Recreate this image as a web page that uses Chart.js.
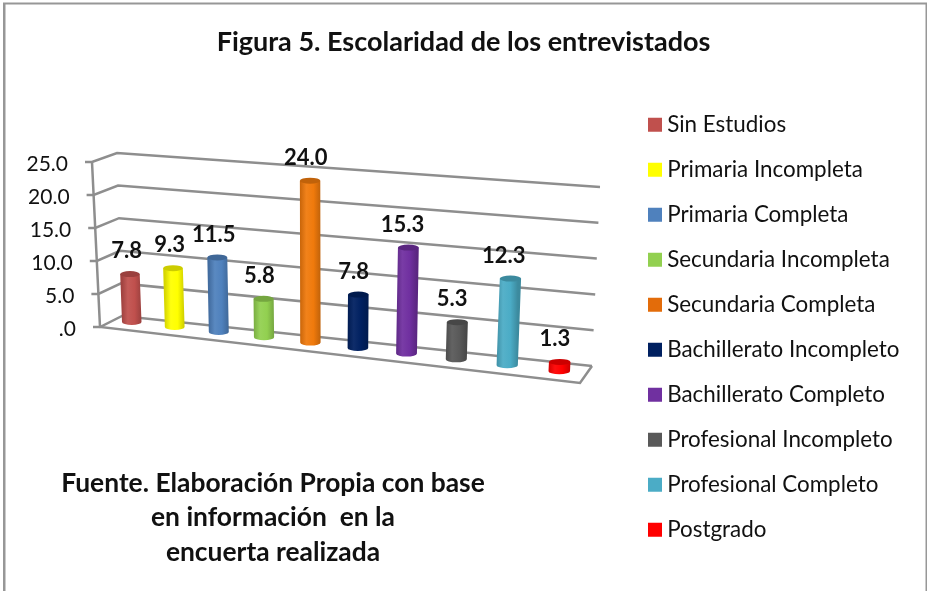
<!DOCTYPE html>
<html>
<head>
<meta charset="utf-8">
<title>Figura 5</title>
<script src="https://cdn.jsdelivr.net/npm/chart.js@4"></script>
<style>
  html, body { margin: 0; padding: 0; background: #fff; }
  #wrap { position: relative; width: 927px; height: 591px; }
</style>
</head>
<body>
<div id="wrap"><canvas id="chart" width="927" height="591"></canvas></div>
<script>
const categories = ["Sin Estudios", "Primaria Incompleta", "Primaria Completa", "Secundaria Incompleta",
    "Secundaria Completa", "Bachillerato Incompleto", "Bachillerato Completo", "Profesional Incompleto",
    "Profesional Completo", "Postgrado"];
const values = [7.8, 9.3, 11.5, 5.8, 24.0, 7.8, 15.3, 5.3, 12.3, 1.3];
const barColors = ["#C0504D", "#FFFF00", "#4F81BD", "#92D050", "#F07A0C", "#002060", "#7030A0", "#595959", "#4BACC6", "#FF0000"];
const legendColors = ["#C0504D", "#FFFF00", "#4F81BD", "#92D050", "#E36C0A", "#002060", "#7030A0", "#595959", "#4BACC6", "#FF0000"];
const sourceLines = ["Fuente. Elaboración Propia con base", "en información  en la", "encuerta realizada"];

const FONT = "Lato, Carlito, Calibri, sans-serif";
const TEXT = "#111";
const LINE = "#8E8E8E";

// the picture is a tilted 3D box: everything is bent from the flat scale positions
function wall(y, value) {
    const u = (y.getPixelForValue(0) - y.getPixelForValue(value)) / (y.getPixelForValue(0) - y.getPixelForValue(25));
    return {
        front: [100 - 8 * u, 327 - 165 * u],
        back: [122 - 5 * u, 316 - 163 * u],
        right: [592 + 8 * u, 366 - 179 * u]
    };
}

function shade(hex, k) {
    const n = parseInt(hex.slice(1), 16);
    const f = c => Math.max(0, Math.min(255, Math.round(k < 0 ? c * (1 + k) : c + (255 - c) * k)));
    return `rgb(${f(n >> 16)},${f((n >> 8) & 255)},${f(n & 255)})`;
}

function cylinderPos(el, area) {
    const t = (el.x - area.left) / (area.right - area.left);
    const s = (t - 0.05) / 0.9;
    const x = el.x - 46 * s * (1 - s);
    const h = (el.base - el.y) * (0.93 + 0.26 * s - 0.12 * s * s);
    const w = 19.5 + 2 * s;
    const bottom = 325 + 0.115 * (x - 132) - 3;
    const top = bottom - h;
    const lean = (x - 320) * h / 5000;
    return { x, top, bottom, w, lean };
}

const box3d = {
    id: "box3d",
    afterLayout(chart) {
        chart.legend.left = 631.4;
        chart.legend.top = 91;
    },
    beforeDraw(chart) {
        const ctx = chart.ctx;
        ctx.save();
        ctx.fillStyle = "#979797";
        ctx.fillRect(3, 3, 2.5, 588);
        ctx.fillRect(3, 2.5, 924, 2);
        ctx.fillRect(925.5, 3, 1.5, 588);
        ctx.restore();
    },
    beforeDatasetsDraw(chart) {
        const ctx = chart.ctx;
        const y = chart.scales.y;
        ctx.save();
        ctx.strokeStyle = LINE;
        ctx.lineWidth = 2.5;
        ctx.font = "21px " + FONT;
        ctx.fillStyle = TEXT;
        ctx.textAlign = "right";
        ctx.textBaseline = "middle";
        y.ticks.forEach(tick => {
            const p = wall(y, tick.value);
            ctx.beginPath();
            ctx.moveTo(p.front[0] - 7, p.front[1]);
            ctx.lineTo(p.front[0], p.front[1]);
            ctx.lineTo(p.back[0], p.back[1]);
            ctx.lineTo(p.right[0], p.right[1]);
            ctx.stroke();
            ctx.fillText(tick.label, p.front[0] - 24, p.front[1] + 2);
        });
        const low = wall(y, 0);
        const high = wall(y, 25);
        ctx.beginPath();
        ctx.moveTo(high.front[0], high.front[1]);
        ctx.lineTo(low.front[0], low.front[1]);
        ctx.lineTo(580, 383);
        ctx.lineTo(low.right[0], low.right[1]);
        ctx.stroke();

        ctx.font = "bold 26.4px " + FONT;
        ctx.textAlign = "center";
        sourceLines.forEach((line, i) => {
            ctx.fillText(line, 273, 483 + i * 34.5);
        });
        ctx.restore();
    },
    beforeDatasetDraw(chart, args) {
        const ctx = chart.ctx;
        const area = chart.chartArea;
        args.meta.data.forEach((el, i) => {
            const c = cylinderPos(el, area);
            const color = barColors[i];
            const rx = c.w / 2;
            const ry = 3;
            const grad = ctx.createLinearGradient(c.x - rx, 0, c.x + rx, 0);
            grad.addColorStop(0, shade(color, -0.16));
            grad.addColorStop(0.3, shade(color, 0.06));
            grad.addColorStop(0.65, color);
            grad.addColorStop(1, shade(color, -0.2));
            ctx.save();
            ctx.fillStyle = grad;
            ctx.beginPath();
            ctx.moveTo(c.x + c.lean - rx, c.top);
            ctx.lineTo(c.x - rx, c.bottom);
            ctx.ellipse(c.x, c.bottom, rx, ry, 0, Math.PI, 0, true);
            ctx.lineTo(c.x + c.lean + rx, c.top);
            ctx.closePath();
            ctx.fill();
            ctx.fillStyle = shade(color, -0.2);
            ctx.beginPath();
            ctx.ellipse(c.x + c.lean, c.top, rx, ry, 0, 0, Math.PI * 2);
            ctx.fill();
            ctx.restore();
        });
        return false;
    },
    afterDatasetsDraw(chart) {
        const ctx = chart.ctx;
        const area = chart.chartArea;
        ctx.save();
        ctx.font = "bold 22px " + FONT;
        ctx.fillStyle = TEXT;
        ctx.textAlign = "center";
        ctx.textBaseline = "middle";
        chart.getDatasetMeta(0).data.forEach((el, i) => {
            const c = cylinderPos(el, area);
            ctx.fillText(values[i].toFixed(1), c.x + c.lean * 0.3 - 4.5, c.top - 23);
        });
        ctx.restore();
    }
};

new Chart(document.getElementById("chart"), {
    type: "bar",
    data: {
        labels: categories,
        datasets: [{ data: values, backgroundColor: barColors, barThickness: 20 }]
    },
    options: {
        responsive: false,
        animation: false,
        layout: { padding: 0 },
        scales: {
            x: {
                grid: { display: false },
                border: { display: false },
                ticks: { display: false },
                afterFit: s => { s.height = 264; }
            },
            y: {
                min: 0,
                max: 25,
                grid: { display: false },
                border: { display: false },
                ticks: { display: false, stepSize: 5, callback: v => v === 0 ? ".0" : v.toFixed(1) },
                afterFit: s => { s.width = 108; }
            },
            // spacer between the plot and the legend
            gap: {
                type: "linear",
                position: "right",
                grid: { display: false },
                border: { display: false },
                ticks: { display: false },
                afterFit: s => { s.width = 344 - (s.chart.legend ? s.chart.legend.width : 300); }
            }
        },
        plugins: {
            title: {
                display: true,
                text: "Figura 5. Escolaridad de los entrevistados",
                color: TEXT,
                font: { family: FONT, size: 27, weight: "bold", lineHeight: 1.2 },
                padding: { top: 26, bottom: 103.6 }
            },
            legend: {
                position: "right",
                align: "start",
                labels: {
                    // small boxWidth with a rect point style keeps the tight gap before the text
                    usePointStyle: true,
                    pointStyle: "rect",
                    boxWidth: 2,
                    boxHeight: 14,
                    padding: 22.6,
                    color: TEXT,
                    font: { family: FONT, size: 22.4 },
                    generateLabels: () => categories.map((name, i) => ({
                        text: name,
                        fillStyle: legendColors[i],
                        strokeStyle: legendColors[i],
                        lineWidth: 0,
                        fontColor: TEXT,
                        pointStyle: "rect",
                        index: i
                    }))
                }
            },
            tooltip: { enabled: false }
        }
    },
    plugins: [box3d]
});
</script>
</body>
</html>
